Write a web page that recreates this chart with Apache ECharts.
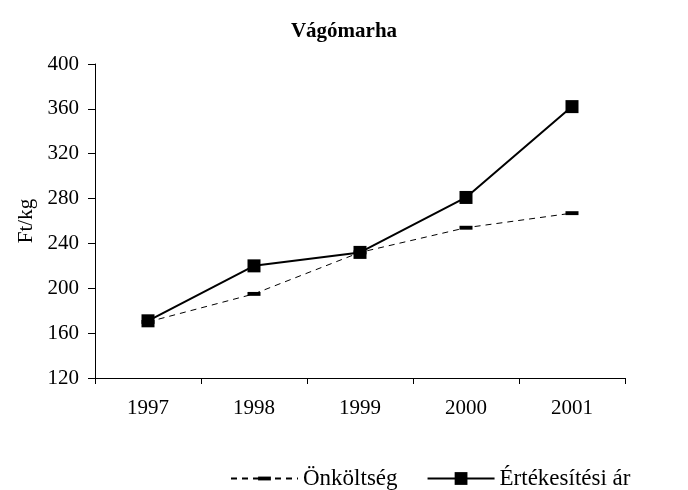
<!DOCTYPE html>
<html>
<head>
<meta charset="utf-8">
<script src="https://cdn.jsdelivr.net/npm/echarts@6/dist/echarts.min.js"></script>
<style>
  html, body { margin: 0; padding: 0; background: #fff; }
  #chart { width: 688px; height: 490px; }
</style>
</head>
<body>
<div id="chart"></div>
<script>
// adatok
const years = ['1997', '1998', '1999', '2000', '2001']
const onkoltseg = [170, 195, 232, 254, 267]
const ertekesitesiAr = [171, 220, 232, 281, 362]
const yTicks = [120, 160, 200, 240, 280, 320, 360, 400]

const font = 'Liberation Serif, Times New Roman, serif'
// vízszintes vonalka jelölő, négyzetes befoglalóval, hogy a jelmagyarázatban se torzuljon
const dashSymbol = 'path://M0,0 M12,12 M0,4.2 L12,4.2 L12,7.8 L0,7.8 Z'

const chart = echarts.init(document.getElementById('chart'))
chart.setOption({
  animation: false,
  backgroundColor: '#fff',
  textStyle: { fontFamily: font, color: '#000' },
  title: {
    text: 'Vágómarha',
    left: 'center',
    top: 16,
    textStyle: { fontFamily: font, fontSize: 21, fontWeight: 'bold', color: '#000' }
  },
  legend: {
    left: 225,
    top: 462,
    itemWidth: 67,
    itemHeight: 16,
    itemGap: 29,
    textStyle: { fontFamily: font, fontSize: 23, color: '#000' },
    data: ['Önköltség', 'Értékesítési ár']
  },
  grid: { left: 95, right: 63, top: 64, bottom: 112 },
  xAxis: {
    type: 'category',
    data: years,
    boundaryGap: true,
    axisLine: { lineStyle: { color: '#000', width: 1 } },
    axisTick: { show: true, length: 6, lineStyle: { color: '#000' } },
    axisLabel: { fontFamily: font, fontSize: 21, color: '#000', margin: 20 }
  },
  yAxis: {
    type: 'value',
    min: yTicks[0],
    max: yTicks[yTicks.length - 1],
    interval: 40,
    name: 'Ft/kg',
    nameLocation: 'middle',
    nameGap: 58,
    nameTextStyle: { fontFamily: font, fontSize: 21, color: '#000' },
    axisLine: { show: true, lineStyle: { color: '#000', width: 1 } },
    axisTick: { show: true, length: 7, lineStyle: { color: '#000' } },
    axisLabel: { fontFamily: font, fontSize: 21, color: '#000', margin: 16 },
    splitLine: { show: false }
  },
  series: [
    {
      name: 'Önköltség',
      type: 'line',
      data: onkoltseg,
      symbol: dashSymbol,
      symbolSize: 13,
      itemStyle: { color: '#000' },
      lineStyle: { color: '#000', width: 1, type: [6, 5] },
      z: 2
    },
    {
      name: 'Értékesítési ár',
      type: 'line',
      data: ertekesitesiAr,
      symbol: 'rect',
      symbolSize: 13,
      itemStyle: { color: '#000' },
      lineStyle: { color: '#000', width: 2 },
      z: 3
    }
  ]
})
</script>
</body>
</html>
